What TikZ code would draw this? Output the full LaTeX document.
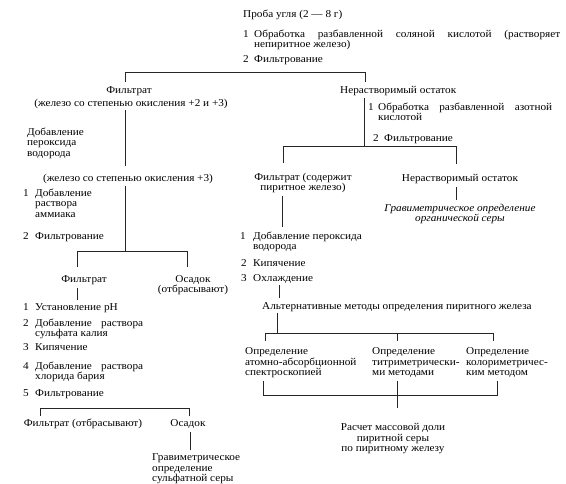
\documentclass[tikz,border=0pt]{standalone}
\usepackage{fontspec}
\setmainfont{Liberation Serif}[FakeStretch=1.07]
\newcommand\fs{\fontsize{10.5}{10.3}\selectfont}
\newcommand\mystrut{\rule{0pt}{8pt}}
\tikzset{
  lt/.style={inner sep=0pt, anchor=north west, yshift=8pt, align=left},
  ct/.style={inner sep=0pt, anchor=north, yshift=8pt, align=center},
  ln/.style={line width=0.5pt, draw=black!85},
}
\begin{document}
\begin{tikzpicture}[x=1pt,y=-1pt,font=\fs]
\useasboundingbox (0,0) rectangle (566,484);
% ---------- top
\node[lt] (proba) at (243,17.5) {\mystrut Проба угля (2 — 8 г)};
\node[lt] (n1a) at (243,37.5) {\mystrut 1};
\node[lt] (s1a) at (254,37.5) {\mystrut\makebox[306pt][s]{Обработка разбавленной соляной кислотой (растворяет}\\непиритное железо)};
\node[lt] (n2a) at (243,62) {\mystrut 2};
\node[lt] (s2a) at (254,62) {\mystrut Фильтрование};
% ---------- left branch
\node[ct] (fil1) at (129,93.5) {\mystrut Фильтрат};
\node[ct] (fe23) at (131,106.5) {\mystrut (железо со степенью окисления +2 и +3)};
\node[lt] (h2o2a) at (27,135.5) {\mystrut Добавление\\пероксида\\водорода};
\node[ct] (fe3) at (128,181.5) {\mystrut (железо со степенью окисления +3)};
\node[lt] (n1b) at (23,196.5) {\mystrut 1};
\node[lt] (s1b) at (35,196.5) {\mystrut Добавление\\раствора\\аммиака};
\node[lt] (n2b) at (23,239.5) {\mystrut 2};
\node[lt] (s2b) at (35,239.5) {\mystrut Фильтрование};
\node[ct] (fil2) at (84,282.5) {\mystrut Фильтрат};
\node[ct] (osa1) at (193,282.5) {\mystrut Осадок\\(отбрасывают)};
\node[lt] (n1c) at (23,310.5) {\mystrut 1};
\node[lt] (s1c) at (35,310.5) {\mystrut Установление pH};
\node[lt] (n2c) at (23,326.5) {\mystrut 2};
\node[lt] (s2c) at (35,326.5) {\mystrut\makebox[108pt][s]{Добавление раствора}\\сульфата калия};
\node[lt] (n3c) at (23,350.5) {\mystrut 3};
\node[lt] (s3c) at (35,350.5) {\mystrut Кипячение};
\node[lt] (n4c) at (23,369.5) {\mystrut 4};
\node[lt] (s4c) at (35,369.5) {\mystrut\makebox[108pt][s]{Добавление раствора}\\хлорида бария};
\node[lt] (n5c) at (23,396.5) {\mystrut 5};
\node[lt] (s5c) at (35,396.5) {\mystrut Фильтрование};
\node[ct] (fil3) at (83,426.5) {\mystrut Фильтрат (отбрасывают)};
\node[ct] (osa2) at (188,426.5) {\mystrut Осадок};
\node[lt] (grav1) at (152,460.5) {\mystrut Гравиметрическое\\определение\\сульфатной серы};
% ---------- right branch
\node[lt] (ner1) at (340,93.5) {\mystrut Нерастворимый остаток};
\node[lt] (n1d) at (368,110.5) {\mystrut 1};
\node[lt] (s1d) at (378,110.5) {\mystrut\makebox[174pt][s]{Обработка разбавленной азотной}\\кислотой};
\node[lt] (n2d) at (373,141.5) {\mystrut 2};
\node[lt] (s2d) at (384,141.5) {\mystrut Фильтрование};
\node[ct] (fil4) at (303,180.5) {\mystrut Фильтрат (содержит\\пиритное железо)};
\node[ct] (ner2) at (460,181) {\mystrut Нерастворимый остаток};
\node[ct,font=\fs\itshape] (grav2) at (460,211.5) {\mystrut Гравиметрическое определение\\органической серы};
\node[lt] (n1e) at (240,239.5) {\mystrut 1};
\node[lt] (s1e) at (253,239.5) {\mystrut Добавление пероксида\\водорода};
\node[lt] (n2e) at (241,266) {\mystrut 2};
\node[lt] (s2e) at (253,266) {\mystrut Кипячение};
\node[lt] (n3e) at (241,281) {\mystrut 3};
\node[lt] (s3e) at (253,281) {\mystrut Охлаждение};
\node[lt] (alt) at (262,309) {\mystrut Альтернативные методы определения пиритного железа};
\node[lt] (m1) at (245,354.5) {\mystrut Определение\\атомно-абсорбционной\\спектроскопией};
\node[lt] (m2) at (372,354.5) {\mystrut Определение\\титриметрически-\\ми методами};
\node[lt] (m3) at (466,354.5) {\mystrut Определение\\колориметричес-\\ким методом};
\node[ct] (calc) at (393,430.5) {\mystrut Расчет массовой доли\\пиритной серы\\по пиритному железу};
% ---------- connector points
\coordinate (a1) at (125,82);  \coordinate (a2) at (125,72);
\coordinate (a3) at (365,72);  \coordinate (a4) at (365,82);
\coordinate (b1) at (125,110); \coordinate (b2) at (125,166);
\coordinate (b3) at (125,186); \coordinate (b4) at (125,251);
\coordinate (c1) at (77,267);  \coordinate (c2) at (77,251);
\coordinate (c3) at (187,251); \coordinate (c4) at (187,267);
\coordinate (d1) at (77,288);  \coordinate (d2) at (77,300);
\coordinate (e1) at (40,416);  \coordinate (e2) at (40,408);
\coordinate (e3) at (189,408); \coordinate (e4) at (189,416);
\coordinate (f1) at (190,432); \coordinate (f2) at (190,450);
\coordinate (g1) at (364,98);  \coordinate (g2) at (364,146.5);
\coordinate (h1) at (283,163); \coordinate (h2) at (283,146.5);
\coordinate (h3) at (456,146.5); \coordinate (h4) at (456,164);
\coordinate (i1) at (456,187); \coordinate (i2) at (456,200);
\coordinate (j1) at (282,196); \coordinate (j2) at (282,227);
\coordinate (k1) at (279,285); \coordinate (k2) at (279,298);
\coordinate (l1) at (277,313); \coordinate (l2) at (277,333);
\coordinate (m1a) at (265,341); \coordinate (m1b) at (265,333);
\coordinate (m3b) at (493,333); \coordinate (m3a) at (493,341);
\coordinate (m2b) at (397,333); \coordinate (m2a) at (397,341);
\coordinate (p1a) at (263,381); \coordinate (p1b) at (263,395);
\coordinate (p3b) at (497,395); \coordinate (p3a) at (497,381);
\coordinate (p2a) at (397,381); \coordinate (p2c) at (397,408);
% ---------- connectors
\draw[ln] (a1) -- (a2) -- (a3) -- (a4);
\draw[ln] (b1) -- (b2);
\draw[ln] (b3) -- (b4);
\draw[ln] (c1) -- (c2) -- (c3) -- (c4);
\draw[ln] (d1) -- (d2);
\draw[ln] (e1) -- (e2) -- (e3) -- (e4);
\draw[ln] (f1) -- (f2);
\draw[ln] (g1) -- (g2);
\draw[ln] (h1) -- (h2) -- (h3) -- (h4);
\draw[ln] (i1) -- (i2);
\draw[ln] (j1) -- (j2);
\draw[ln] (k1) -- (k2);
\draw[ln] (l1) -- (l2);
\draw[ln] (m1a) -- (m1b) -- (m3b) -- (m3a);
\draw[ln] (m2b) -- (m2a);
\draw[ln] (p1a) -- (p1b) -- (p3b) -- (p3a);
\draw[ln] (p2a) -- (p2c);
\end{tikzpicture}
\end{document}
